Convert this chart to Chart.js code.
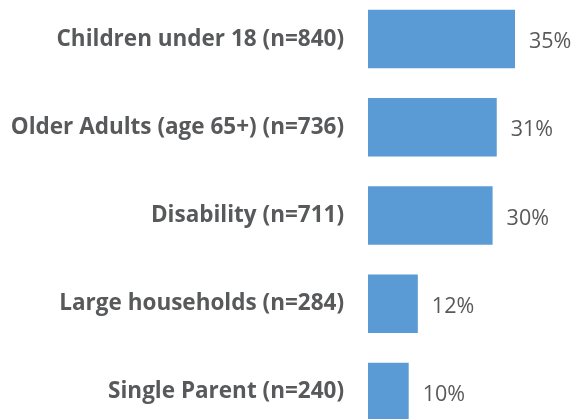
<!DOCTYPE html>
<html lang="en">
<head>
    <meta charset="UTF-8">
    <title>Groups</title>
    <script src="https://cdn.jsdelivr.net/npm/chart.js"></script>
    <style>
        html, body { margin: 0; padding: 0; background: #fff; overflow: hidden; }
        #chart { position: absolute; left: 0; top: -5px; }
    </style>
</head>
<body>
    <canvas id="chart" width="574" height="441"></canvas>

    <script>
        const categories = [
            'Children under 18 (n=840)',
            'Older Adults (age 65+) (n=736)',
            'Disability (n=711)',
            'Large households (n=284)',
            'Single Parent (n=240)'
        ];
        const shares = [35.4, 31.0, 30.0, 12.0, 9.8];

        const labelColor = '#58595b';
        const barColor = '#5b9bd5';

        // draws the "35%" text right of every bar
        const valueLabels = {
            id: 'valueLabels',
            afterDatasetsDraw(chart) {
                const ctx = chart.ctx;
                const meta = chart.getDatasetMeta(0);
                ctx.save();
                ctx.font = '21.5px "Open Sans"';
                ctx.fillStyle = '#595959';
                ctx.textAlign = 'left';
                ctx.textBaseline = 'middle';
                meta.data.forEach((bar, i) => {
                    ctx.fillText(Math.round(shares[i]) + '%', bar.x + 14, bar.y + 3);
                });
                ctx.restore();
            }
        };

        new Chart(document.getElementById('chart'), {
            type: 'bar',
            data: {
                labels: categories,
                datasets: [{
                    data: shares,
                    backgroundColor: barColor,
                    borderWidth: 0,
                    categoryPercentage: 1,
                    barPercentage: 0.663
                }]
            },
            options: {
                indexAxis: 'y',
                responsive: false,
                animation: false,
                devicePixelRatio: 1,
                layout: { padding: 0 },
                scales: {
                    x: {
                        display: false,
                        min: 0,
                        max: 49.6
                    },
                    y: {
                        grid: { display: false, drawTicks: false, tickLength: 0 },
                        border: { display: false },
                        ticks: {
                            padding: 24,
                            color: labelColor,
                            font: { family: 'Open Sans', size: 22.5, weight: 'bold' }
                        },
                        afterFit(scale) {
                            scale.width = 368;
                            // tick padding would otherwise shrink the plot vertically
                            scale.paddingTop = 0;
                            scale.paddingBottom = 0;
                        }
                    }
                },
                plugins: {
                    legend: { display: false },
                    tooltip: { enabled: false }
                }
            },
            plugins: [valueLabels]
        });
    </script>
</body>
</html>
